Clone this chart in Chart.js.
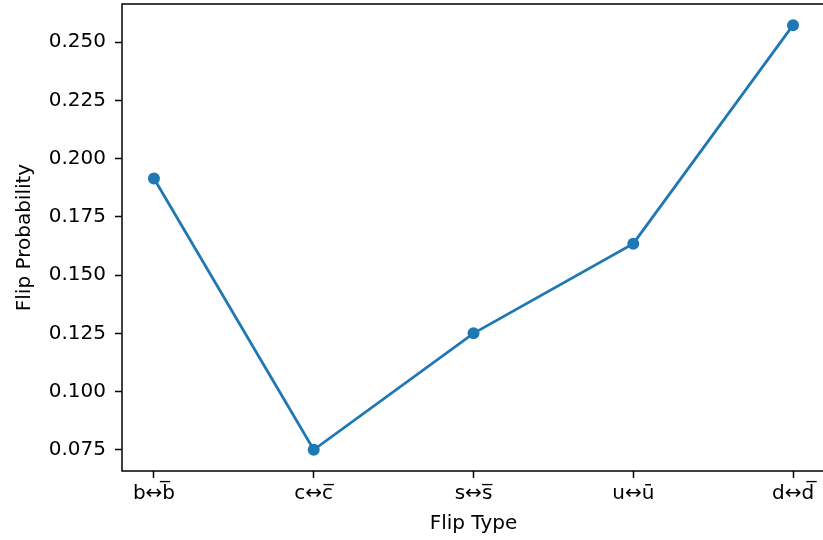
<!DOCTYPE html>
<html lang="en">
<head>
    <meta charset="UTF-8">
    <title>Flip Probability</title>
    <style>
        body, html {
            margin: 0;
            padding: 0;
            overflow: hidden;
            background: #ffffff;
        }

        .chart-box {
            position: absolute;
            left: 0;
            top: 0;
            width: 826px;
            height: 540px;
        }
    </style>
</head>
<body>
    <div class="chart-box">
        <canvas id="flip-chart" width="826" height="540"></canvas>
    </div>

    <script src="https://cdn.jsdelivr.net/npm/chart.js"></script>
    <script>
        // flip types and their probabilities
        const flipTypes = ['b\u2194b\u0305', 'c\u2194c\u0305', 's\u2194s\u0305', 'u\u2194\u016b', 'd\u2194d\u0305'];
        const flipProbs = [0.1915, 0.075, 0.125, 0.1635, 0.2573];
        const yTickValues = [0.075, 0.100, 0.125, 0.150, 0.175, 0.200, 0.225, 0.250];

        const blue = '#1f77b4';
        const fontSpec = { family: 'DejaVu Sans', size: 20 };

        // box around the plotting area
        const frame = {
            id: 'frame',
            afterDraw(chart) {
                const { ctx, chartArea: a } = chart;
                ctx.save();
                ctx.strokeStyle = '#000';
                ctx.lineWidth = 1.5;
                ctx.strokeRect(a.left, a.top, a.right - a.left, a.bottom - a.top);
                ctx.restore();
            }
        };

        const ctx = document.getElementById('flip-chart').getContext('2d');
        new Chart(ctx, {
            type: 'line',
            data: {
                datasets: [{
                    label: 'Flip Probability',
                    data: flipProbs.map((p, i) => ({ x: i, y: p })),
                    borderColor: blue,
                    backgroundColor: blue,
                    borderWidth: 2.8,
                    pointRadius: 6,
                    pointBorderWidth: 0,
                    pointBackgroundColor: blue,
                    tension: 0,
                    fill: false
                }]
            },
            options: {
                responsive: false,
                animation: false,
                devicePixelRatio: 1,
                layout: {
                    autoPadding: false,
                    padding: { top: 4, right: 1, left: 0, bottom: 0 }
                },
                plugins: {
                    legend: { display: false },
                    tooltip: { enabled: false }
                },
                scales: {
                    x: {
                        type: 'linear',
                        min: -0.2,
                        max: 4.2,
                        afterBuildTicks: s => { s.ticks = flipTypes.map((t, i) => ({ value: i })); },
                        afterFit: s => {
                            s.height = 69;
                            s.paddingLeft = 0;
                            s.paddingRight = 0;
                        },
                        ticks: {
                            callback: v => flipTypes[v],
                            color: '#000',
                            font: fontSpec,
                            padding: 4,
                            maxRotation: 0,
                            autoSkip: false
                        },
                        grid: {
                            drawOnChartArea: false,
                            tickLength: 7,
                            tickColor: '#000',
                            tickWidth: 1.5
                        },
                        border: { display: false },
                        title: {
                            display: true,
                            text: 'Flip Type',
                            color: '#000',
                            font: fontSpec,
                            padding: { top: 0, bottom: 4 }
                        }
                    },
                    y: {
                        min: 0.0659,
                        max: 0.2664,
                        afterBuildTicks: s => { s.ticks = yTickValues.map(v => ({ value: v })); },
                        afterFit: s => {
                            s.width = 122;
                            s.paddingTop = 0;
                            s.paddingBottom = 0;
                        },
                        ticks: {
                            callback: v => v.toFixed(3),
                            color: '#000',
                            font: fontSpec,
                            padding: 9
                        },
                        grid: {
                            drawOnChartArea: false,
                            tickLength: 7,
                            tickColor: '#000',
                            tickWidth: 1.5
                        },
                        border: { display: false },
                        title: {
                            display: true,
                            text: 'Flip Probability',
                            color: '#000',
                            font: fontSpec,
                            padding: { top: 13, bottom: 0 }
                        }
                    }
                }
            },
            plugins: [frame]
        });
    </script>
</body>
</html>
